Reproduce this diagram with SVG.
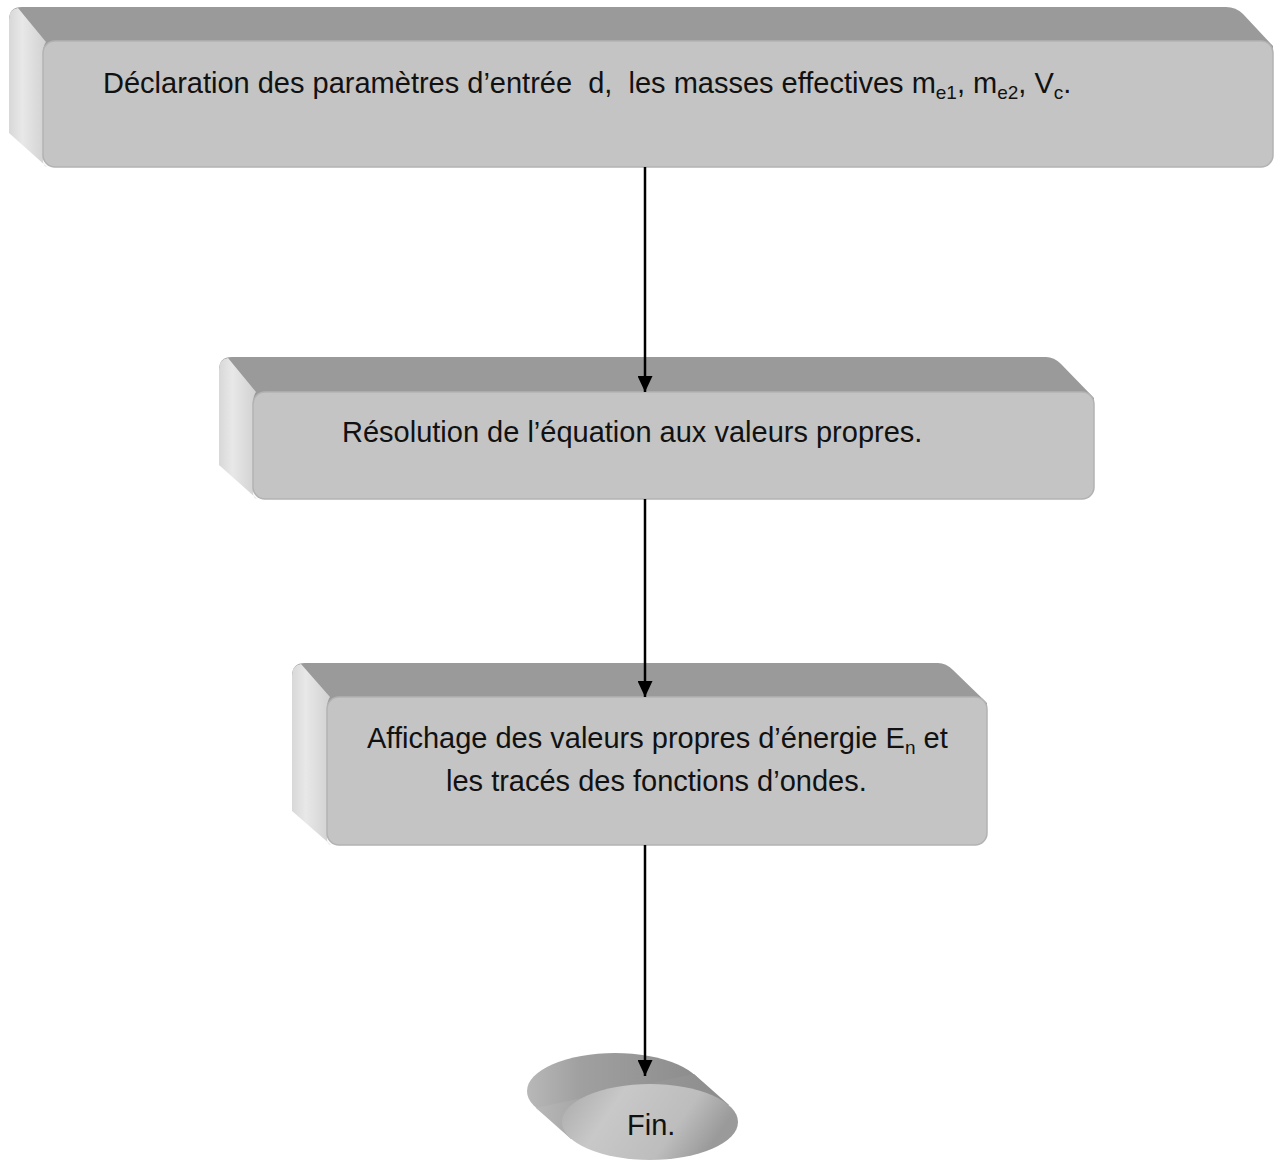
<svg xmlns="http://www.w3.org/2000/svg" width="1277" height="1160" viewBox="0 0 1277 1160">
<style>
.top{fill:#9a9a9a}
.side{fill:url(#sideG)}
.front{fill:#c4c4c4;stroke:#b2b2b2;stroke-width:1.5}
.t{font-family:"Liberation Sans",Arial,sans-serif;font-size:29px;fill:#111;white-space:pre}
.sub{font-size:19px}
.conn{stroke:#000;stroke-width:2.5;fill:none}
</style>
<defs>
<linearGradient id="sideG" x1="0" y1="0" x2="1" y2="0">
<stop offset="0" stop-color="#d8d8d8"/>
<stop offset="0.35" stop-color="#e8e8e8"/>
<stop offset="1" stop-color="#d0d0d0"/>
</linearGradient>
<linearGradient id="finBack" x1="0" y1="0" x2="1" y2="0">
<stop offset="0" stop-color="#b8b8b8"/>
<stop offset="0.3" stop-color="#a0a0a0"/>
<stop offset="1" stop-color="#8c8c8c"/>
</linearGradient>
<linearGradient id="finFront" x1="0" y1="0" x2="1" y2="0.3">
<stop offset="0" stop-color="#a8a8a8"/>
<stop offset="0.35" stop-color="#c8c8c8"/>
<stop offset="0.75" stop-color="#bdbdbd"/>
<stop offset="1" stop-color="#9a9a9a"/>
</linearGradient>
<marker id="arr" markerWidth="16" markerHeight="15" refX="16" refY="7.5" orient="auto" markerUnits="userSpaceOnUse" viewBox="0 0 16 15">
<path d="M0,0 L16,7.5 L0,15 Z" fill="#000"/>
</marker>
</defs>

<g id="node1">
<path class="top" d="M9,20 Q9,7 22,7 L1226,7 Q1236,7 1243,14 L1273,46 L1273,60 L43,60 Z"/>
<path class="side" d="M9,20 Q9,9 18,8 L46,42 Q43,46 43,54 L43,160 Q43,166 47,167 L9,133 Z"/>
<rect class="front" x="43" y="41" width="1230" height="126" rx="12"/>
<text class="t" x="103" y="93" xml:space="preserve">Déclaration des paramètres d’entrée  d,  les masses effectives m<tspan class="sub" dy="6">e1</tspan><tspan dy="-6">, m</tspan><tspan class="sub" dy="6">e2</tspan><tspan dy="-6">, V</tspan><tspan class="sub" dy="6">c</tspan><tspan dy="-6">.</tspan></text>
</g>

<g id="node2">
<path class="top" d="M219,370 Q219,357 232,357 L1046,357 Q1054,357 1061,364 L1094,398 L1094,410 L253,410 Z"/>
<path class="side" d="M219,370 Q219,359 228,358 L256,392 Q253,396 253,404 L253,492 Q253,498 257,499 L219,465 Z"/>
<rect class="front" x="253" y="392" width="841" height="107" rx="12"/>
<text class="t" x="342" y="442">Résolution de l’équation aux valeurs propres.</text>
</g>

<g id="node3">
<path class="top" d="M292,676 Q292,663 305,663 L938,663 Q946,663 953,670 L987,703 L987,715 L327,715 Z"/>
<path class="side" d="M292,676 Q292,665 301,664 L330,697 Q327,701 327,709 L327,838 Q327,844 331,845 L292,811 Z"/>
<rect class="front" x="327" y="697" width="660" height="148" rx="12"/>
<text class="t" x="367" y="748" xml:space="preserve">Affichage des valeurs propres d’énergie E<tspan class="sub" dy="6">n</tspan><tspan dy="-6"> et</tspan></text>
<text class="t" x="446" y="791">les tracés des fonctions d’ondes.</text>
</g>

<g id="node4">
<ellipse cx="615" cy="1091" rx="88" ry="38" fill="url(#finBack)"/>
<polygon points="694,1074 729,1105 571,1139 536,1108" fill="url(#finBack)"/>
<ellipse cx="650" cy="1122" rx="88" ry="38" fill="url(#finFront)"/>
<text class="t" x="627" y="1135">Fin.</text>
</g>

<g id="connectors">
<line class="conn" x1="645" y1="167" x2="645" y2="392" marker-end="url(#arr)"/>
<line class="conn" x1="645" y1="499" x2="645" y2="697" marker-end="url(#arr)"/>
<line class="conn" x1="645" y1="845" x2="645" y2="1076" marker-end="url(#arr)"/>
</g>
</svg>
